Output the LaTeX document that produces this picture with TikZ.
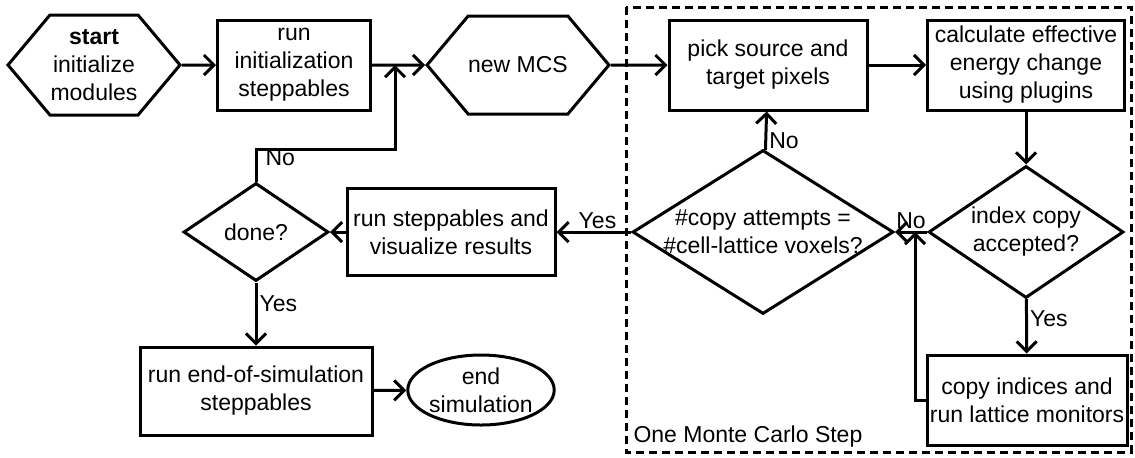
\documentclass[tikz,border=0pt]{standalone}
\usepackage{fontspec}
\setmainfont{Liberation Sans}
\usetikzlibrary{arrows.meta,shapes.geometric,shapes.symbols}

\begin{document}
\begin{tikzpicture}[x=0.5pt,y=-0.5pt,line width=1.5pt,
  font=\fontsize{11.5}{14}\selectfont,
  >={Straight Barb[length=5pt,width=10pt]},
  box/.style={draw,align=center,inner sep=0pt},
  hexa/.style={draw,shape=signal,signal to=west and east,signal pointer angle=100,
    align=center,inner sep=0pt},
  test/.style={draw,diamond,inner sep=0pt},
  lbl/.style={inner sep=1pt}]
\useasboundingbox (0,0) rectangle (1135,457);
% Monte Carlo step frame
\draw[dashed,dash pattern=on 4pt off 2.5pt] (626,7) rectangle (1131,452);
\node[lbl,anchor=west] (mcslbl) at (630,437) {One Monte Carlo Step};
% outer loop
\node[hexa,minimum width=86pt,minimum height=50pt] (start) at (94,65)
  {\textbf{start}\\initialize\\modules};
\node[box,minimum width=76.5pt,minimum height=45pt] (init) at (294,65)
  {run\\initialization\\steppables};
\node[hexa,minimum width=85pt,minimum height=49pt] (mcs) at (518,65) {new MCS};
\node[test,minimum width=72.5pt,minimum height=49pt] (done) at (256,232) {};
\node[align=center] (donetxt) at (done) {done?};
\node[box,minimum width=104pt,minimum height=43.5pt] (vis) at (451,232)
  {run steppables and\\visualize results};
\node[box,minimum width=116pt,minimum height=44pt] (endsim) at (256,391)
  {run end-of-simulation\\steppables};
\node[draw,ellipse,align=center,inner sep=0pt,minimum width=69pt,minimum height=35pt]
  (end) at (481,390) {end\\simulation};
% inner loop
\node[box,minimum width=99pt,minimum height=45pt] (pick) at (768,65)
  {pick source and\\target pixels};
\node[box,minimum width=98.5pt,minimum height=45pt] (calc) at (1026,65)
  {calculate effective\\energy change\\using plugins};
\node[test,minimum width=97.5pt,minimum height=66pt] (index) at (1026,232) {};
\node[align=center] (indextxt) at (index) {index copy\\accepted?};
\node[box,minimum width=100pt,minimum height=45pt] (copy) at (1027,400)
  {copy indices and\\run lattice monitors};
\node[test,minimum width=130.5pt,minimum height=82pt] (cc) at (763,232) {};
\node[align=center] (cctxt) at (cc) {\#copy attempts =\\\#cell-lattice voxels?};
\coordinate (j1) at (395,65);
\coordinate (j2) at (915,232);
% connectors
\draw[->] (start) -- (init);
\draw[->] (init) -- (mcs);
\draw[->] (done.north) -- (256,149) -- (395,149) -- (j1);
\node[lbl,anchor=west] (nodone) at (262,158) {No};
\draw[->] (mcs) -- (pick);
\draw[->] (pick) -- (calc);
\draw[->] (calc) -- (index);
\draw[->] (index) -- node[lbl,right,pos=0.35] (yesidx) {Yes} (copy);
\draw[->] (copy.west) -- (915,400) -- (j2);
\draw[->] (index) -- node[lbl,above] (noidx) {No} (cc);
\draw[->] (cc) -- node[lbl,right,pos=0.25] (nocc) {No} (pick);
\draw[->] (cc) -- node[lbl,above,pos=0.45] (yescc) {Yes} (vis);
\draw[->] (vis) -- (done);
\draw[->] (done) -- node[lbl,right,pos=0.33] (yesdone) {Yes} (endsim);
\draw[->] (endsim) -- (end);
\end{tikzpicture}
\end{document}
